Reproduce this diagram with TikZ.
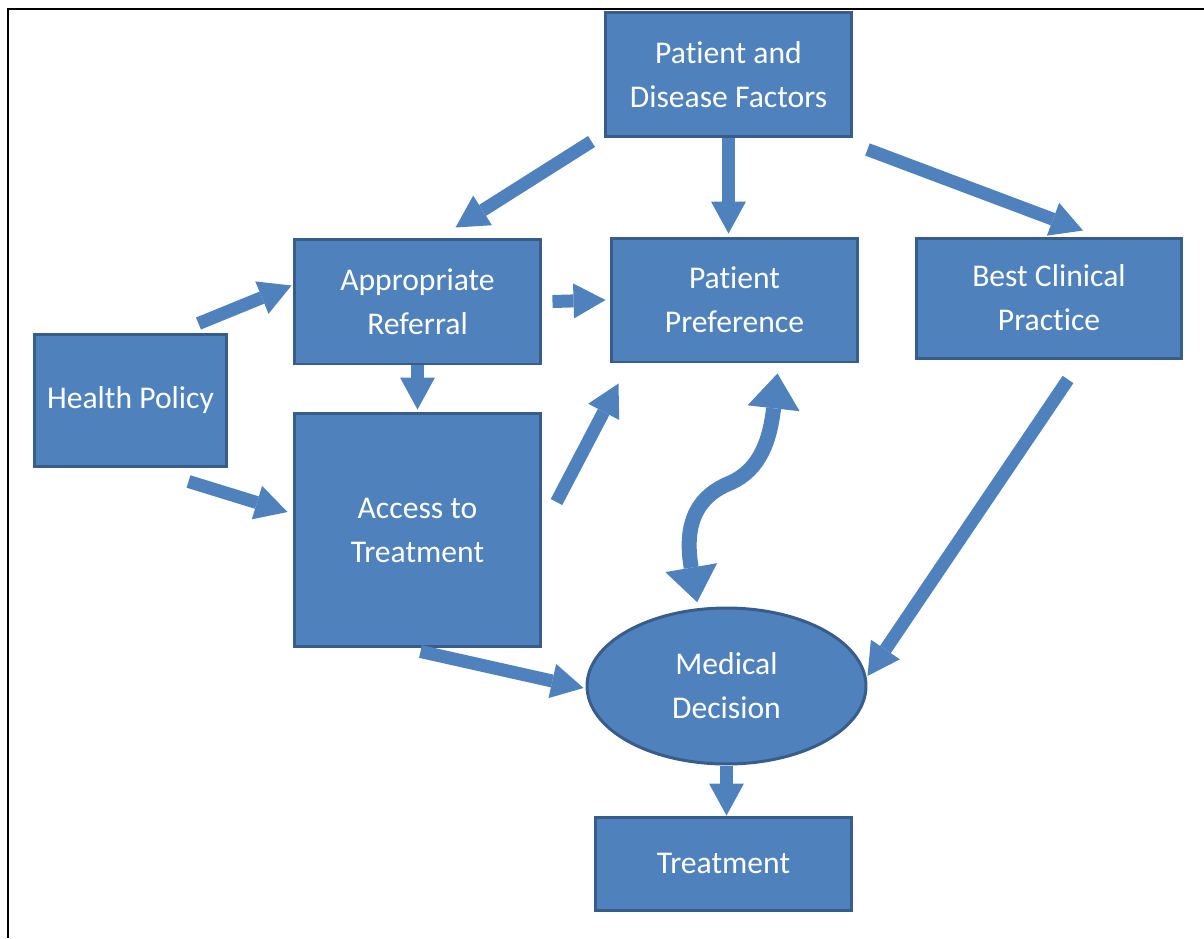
\documentclass[tikz,border=0pt]{standalone}
\usepackage{fontspec}
\setmainfont{Carlito}[Ligatures=NoCommon]
\usetikzlibrary{arrows.meta,calc,shapes.geometric}

\definecolor{boxblue}{HTML}{4F81BD}
\definecolor{boxedge}{HTML}{385D8A}

\tikzset{
  factor/.style={shape=rectangle, draw=boxedge, fill=boxblue, line width=0.06cm,
    text=white, align=center, inner sep=2pt,
    font=\fontsize{18}{25}\selectfont},
  head/.tip={Triangle[width=0.7cm,length=0.64cm,line width=0pt]},
  bighead/.tip={Triangle[width=1.05cm,length=0.7cm,line width=0pt]},
  flow/.style={color=boxblue, line width=0.26cm, -head}
}

\begin{document}
\begin{tikzpicture}[x=0.02cm, y=-0.02cm]
\useasboundingbox (0,0) rectangle (1204,938);
\draw[line width=0.04cm] (8,938) -- (8,9) -- (1204,9);

\node[factor, minimum width=4.94cm, minimum height=2.5cm] (pdf) at (728.5,74.5) {Patient and\\Disease Factors};
\node[factor, minimum width=4.94cm, minimum height=2.5cm] (ar) at (417.5,301.5) {Appropriate\\Referral};
\node[factor, minimum width=4.94cm, minimum height=2.48cm] (pp) at (734.5,300) {Patient\\Preference};
\node[factor, minimum width=5.32cm, minimum height=2.4cm] (bcp) at (1049,298) {Best Clinical\\Practice};
\node[factor, minimum width=3.86cm, minimum height=2.64cm] (hp) at (130.5,400) {Health Policy};
\node[factor, minimum width=4.94cm, minimum height=4.68cm] (at) at (417.5,530) {Access to\\Treatment};
\node[factor, shape=ellipse, minimum width=5.58cm, minimum height=3.12cm, inner sep=0pt] (md) at (726.5,686) {Medical\\Decision};
\node[factor, minimum width=5.14cm, minimum height=1.86cm] (tr) at (723.5,863.5) {Treatment};

\path[flow]
($(pdf.south west)+(-12,3)$) edge ($(ar.north)+(38,-10)$)
(pdf.south) edge ($(pp.north)+(-6,-3)$)
($(pdf.south east)+(14,11)$) edge ($(bcp.north)+(34,-6)$)
($(hp.north east)+(-30,-9)$) edge ($(ar.west)+(-1,-16)$)
($(hp.south east)+(-40,14)$) edge ($(at.west)+(-5,-18)$)
($(ar.east)+(10,0)$) edge ($(pp.west)+(-4,0)$)
(ar.south) edge ($(at.north)+(0,-2)$)
($(at.east)+(14,-28)$) edge ($(pp.south west)+(9,20)$)
($(at.south)+(3,3)$) edge ($(md.west)+(-2,2)$)
($(bcp.south)+(19,20)$) edge ($(md.east)+(0,-10)$)
(md.south) edge ($(tr.north)+(3,0)$);

% two-way link between preference and decision
\draw[flow, line width=0.3cm, bighead-bighead]
($(md.110)+(-1,-6)$) .. controls (683,520) and (700,495) .. (730,483)
  .. controls (760,470) and (770,440) .. ($(pp.south)+(43,10)$);
\end{tikzpicture}
\end{document}
